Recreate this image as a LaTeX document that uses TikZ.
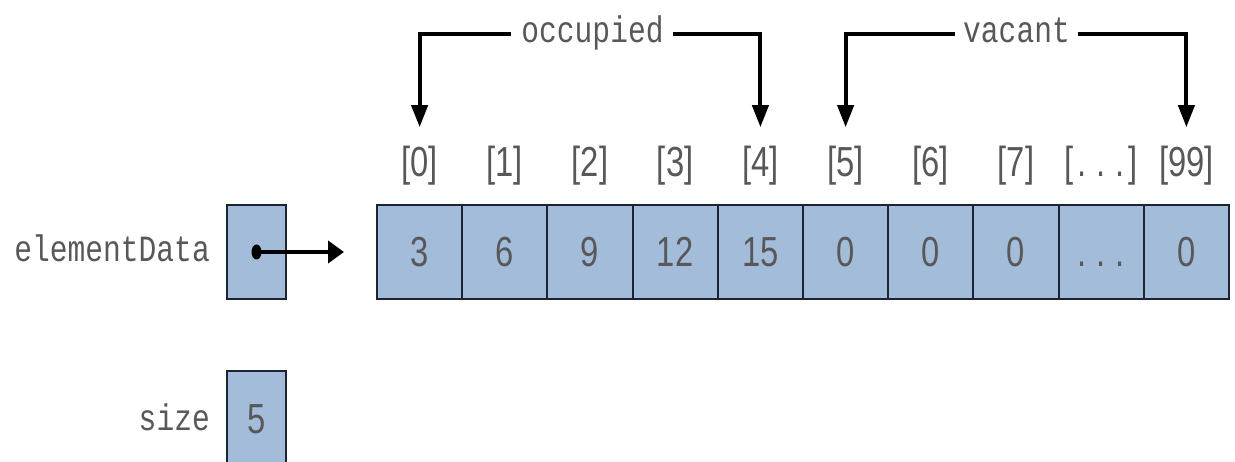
\documentclass[tikz,border=0pt]{standalone}
\usepackage{fontspec}
\usetikzlibrary{positioning,arrows.meta}
\newfontfamily\codefont[FakeStretch=0.8]{Liberation Mono}
\newfontfamily\cellfont[FakeStretch=0.78]{Liberation Sans}
\definecolor{cellblue}{RGB}{163,188,218}
\definecolor{textgray}{RGB}{88,88,88}
\definecolor{linedark}{RGB}{28,35,51}
\newcommand{\dotsgap}{.\hspace{10pt}.\hspace{10pt}.}

\begin{document}
\begin{tikzpicture}[x=1pt,y=-1pt,
    cellbox/.style={draw=linedark,line width=2pt,fill=cellblue,inner sep=0pt,
      minimum width=85.2pt,minimum height=94pt,text=textgray,text height=30pt,text depth=0pt,
      font=\cellfont\fontsize{42}{44}\selectfont},
    varbox/.style={cellbox,minimum width=59pt},
    idxlabel/.style={inner sep=0pt,text=textgray,font=\cellfont\fontsize{42}{44}\selectfont},
    codelabel/.style={inner sep=0pt,text=textgray,text height=26pt,text depth=8pt,
      font=\codefont\fontsize{37}{40}\selectfont},
    bracketline/.style={line width=4pt,-{Triangle[length=22pt,width=16pt]}},
    pointer/.style={line width=4pt,-{Triangle[length=16pt,width=22pt]}}]
  \useasboundingbox (0,0) rectangle (1235,462);
  % the array and its indices
  \foreach \val/\idx [count=\i from 0] in {3/0,6/1,9/2,12/3,15/4,0/5,0/6,0/7,{\dotsgap}/{\hspace{4pt}\dotsgap\hspace{4pt}},0/99}{
    \node[cellbox] (c\i) at ({377+85.2*(\i+0.5)},252) {\val};
    \node[idxlabel] (idx\i) at ({377+85.2*(\i+0.5)},166) {[\idx]};
  }
  % variables
  \node[varbox] (ptr) at (256.5,252) {};
  \node[varbox] (sz) at (256.5,418) {5};
  \node[codelabel,anchor=east] (ptrname) at (210,253) {elementData};
  \node[codelabel,anchor=east] (szname) at (210,421) {size};
  \fill (ptr.center) ellipse [x radius=5pt,y radius=7.5pt];
  \draw[pointer] (ptr.center) -- ([xshift=-32pt]c0.west);
  % occupied / vacant ranges
  \node[codelabel] (occ) at (592.5,34) {occupied};
  \node[codelabel] (vac) at (1016.5,34) {vacant};
  \draw[bracketline] ([xshift=-10pt]occ.west) -| ([yshift=19pt]idx0.north);
  \draw[bracketline] ([xshift=9pt]occ.east) -| ([yshift=19pt]idx4.north);
  \draw[bracketline] ([xshift=-8pt]vac.west) -| ([yshift=19pt]idx5.north);
  \draw[bracketline] ([xshift=8pt]vac.east) -| ([yshift=19pt]idx9.north);
\end{tikzpicture}
\end{document}
